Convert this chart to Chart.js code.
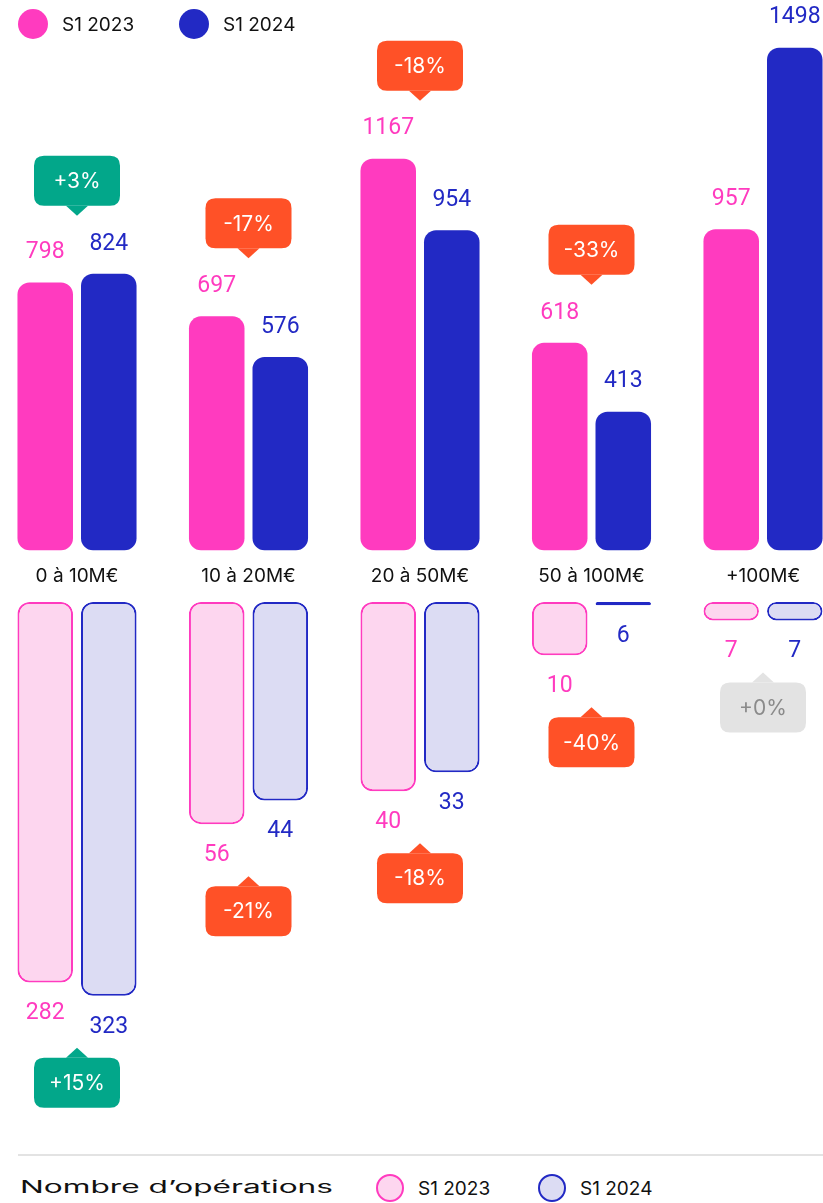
<!DOCTYPE html>
<html>
<head>
<meta charset="utf-8">
<script src="https://cdn.jsdelivr.net/npm/chart.js@4.4.1/dist/chart.umd.min.js"></script>
<style>
  body { margin: 0; background: #fff; font-family: Inter, sans-serif; width: 823px; height: 1203px; overflow: hidden; position: relative; }
  canvas { position: absolute; left: 0; }
  #montants { top: 0; }
  #operations { top: 592px; }
  .leg { position: absolute; display: flex; align-items: center; font-size: 19px; color: #111; white-space: nowrap; }
  .dot { width: 30px; height: 30px; border-radius: 50%; box-sizing: border-box; margin-right: 14px; }
  .sep { position: absolute; left: 18px; right: 0; top: 1154px; height: 2px; background: #e3e3e3; }
  .titre { position: absolute; left: 20px; top: 1175px; font-size: 17px; line-height: 24px; color: #111; transform-origin: 0 50%; white-space: nowrap; }
</style>
</head>
<body>
<canvas id="montants" width="823" height="620"></canvas>
<canvas id="operations" width="823" height="558"></canvas>

<div class="leg" style="left:18px;top:9px"><div class="dot" style="background:#ff3bbf"></div>S1 2023</div>
<div class="leg" style="left:179px;top:9px"><div class="dot" style="background:#2229c4"></div>S1 2024</div>

<div class="sep"></div>
<div class="titre" id="titre">Nombre d’opérations</div>
<div class="leg" style="left:376px;top:1174px"><div class="dot" style="width:28px;height:28px;background:#fdd6ef;border:2px solid #ff3bbf"></div>S1 2023</div>
<div class="leg" style="left:538px;top:1174px"><div class="dot" style="width:28px;height:28px;background:#dcdcf3;border:2px solid #2229c4"></div>S1 2024</div>

<script>
const categories = ['0 à 10M€', '10 à 20M€', '20 à 50M€', '50 à 100M€', '+100M€'];
const seriesLabels = ['S1 2023', 'S1 2024'];
const montant2023 = [798, 697, 1167, 618, 957];
const montant2024 = [824, 576, 954, 413, 1498];
const operations2023 = [282, 56, 40, 10, 7];
const operations2024 = [323, 44, 33, 6, 7];

const PINK = '#ff3bbf';
const BLUE = '#2229c4';
const PINK_LIGHT = '#fdd6ef';
const BLUE_LIGHT = '#dcdcf3';

// titre élargi pour rappeler la police d'origine
const titre = document.getElementById('titre');
titre.style.transform = 'scaleX(' + (313 / titre.getBoundingClientRect().width) + ')';

function variation(a, b) {
  const p = (b - a) / a * 100;
  return Math.sign(p) * Math.round(Math.abs(p));
}

function roundRectPath(ctx, x, y, w, h, r) {
  ctx.moveTo(x + r, y);
  ctx.lineTo(x + w - r, y);
  ctx.quadraticCurveTo(x + w, y, x + w, y + r);
  ctx.lineTo(x + w, y + h - r);
  ctx.quadraticCurveTo(x + w, y + h, x + w - r, y + h);
  ctx.lineTo(x + r, y + h);
  ctx.quadraticCurveTo(x, y + h, x, y + h - r);
  ctx.lineTo(x, y + r);
  ctx.quadraticCurveTo(x, y, x + r, y);
}

// dir 1 : pointe vers le bas (bulle au-dessus), dir -1 : pointe vers le haut
function drawBadge(ctx, cx, tipY, dir, pct) {
  const w = 86, h = 50, r = 10, th = 10, tw = 11;
  const boxY = dir === 1 ? tipY - th - h : tipY + th;
  const edge = dir === 1 ? boxY + h : boxY;
  let fill = '#e3e3e3', color = '#8a8a8a';
  if (pct > 0) { fill = '#02a78a'; color = '#fff'; }
  if (pct < 0) { fill = '#ff5127'; color = '#fff'; }
  ctx.save();
  ctx.fillStyle = fill;
  ctx.beginPath();
  roundRectPath(ctx, cx - w / 2, boxY, w, h, r);
  ctx.fill();
  ctx.beginPath();
  ctx.moveTo(cx - tw, edge);
  ctx.lineTo(cx, tipY);
  ctx.lineTo(cx + tw, edge);
  ctx.closePath();
  ctx.fill();
  ctx.fillStyle = color;
  ctx.font = '21px Inter';
  ctx.textAlign = 'center';
  ctx.textBaseline = 'middle';
  ctx.fillText((pct >= 0 ? '+' : '') + pct + '%', cx, boxY + h / 2 + 1);
  ctx.restore();
}

// étiquettes de valeurs + bulles de variation
const annotations = {
  id: 'annotations',
  afterDatasetsDraw(chart, args, opts) {
    const ctx = chart.ctx;
    const dir = opts.below ? -1 : 1;
    const colors = [PINK, BLUE];
    ctx.save();
    ctx.font = '23px Roboto';
    ctx.textAlign = 'center';
    ctx.textBaseline = 'middle';
    const labelY = [];
    for (let d = 0; d < 2; d++) {
      const meta = chart.getDatasetMeta(d);
      const values = chart.data.datasets[d].data;
      ctx.fillStyle = colors[d];
      meta.data.forEach((bar, i) => {
        const y = opts.below ? bar.y + 31 : bar.y - 30;
        labelY[i] = labelY[i] === undefined ? y : (opts.below ? Math.max(labelY[i], y) : Math.min(labelY[i], y));
        ctx.fillText(values[i], bar.x, y);
      });
    }
    ctx.restore();
    const a = chart.data.datasets[0].data, b = chart.data.datasets[1].data;
    categories.forEach((c, i) => {
      const cx = chart.scales.x.getPixelForValue(i);
      const tip = opts.below ? labelY[i] + 21 : labelY[i] - 28;
      drawBadge(ctx, cx, tip, dir, variation(a[i], b[i]));
    });
  }
};

const barOpts = { categoryPercentage: 0.741, barPercentage: 0.874 };

new Chart(document.getElementById('montants'), {
  type: 'bar',
  data: {
    labels: categories,
    datasets: [
      { label: seriesLabels[0], data: montant2023, backgroundColor: PINK, borderRadius: 12, borderSkipped: false, clip: false },
      { label: seriesLabels[1], data: montant2024, backgroundColor: BLUE, borderRadius: 12, borderSkipped: false, clip: false }
    ]
  },
  options: {
    responsive: false,
    animation: false,
    layout: { padding: { left: 77, right: 60, top: 0, bottom: 17 } },
    datasets: { bar: barOpts },
    plugins: { legend: { display: false }, tooltip: { enabled: false }, annotations: { below: false } },
    scales: {
      x: {
        offset: false,
        grid: { display: false, drawTicks: false },
        border: { display: false },
        ticks: { color: '#111', font: { family: 'Inter', size: 19 }, padding: 15, autoSkip: false, maxRotation: 0 }
      },
      y: { display: false, min: 0, max: 1640 }
    }
  },
  plugins: [annotations]
});

new Chart(document.getElementById('operations'), {
  type: 'bar',
  data: {
    labels: categories,
    datasets: [
      { label: seriesLabels[0], data: operations2023, backgroundColor: PINK_LIGHT, borderColor: PINK, borderWidth: 2, borderRadius: 12, borderSkipped: false, clip: false },
      { label: seriesLabels[1], data: operations2024, backgroundColor: BLUE_LIGHT, borderColor: BLUE, borderWidth: 2, borderRadius: 12, borderSkipped: false, clip: false }
    ]
  },
  options: {
    responsive: false,
    animation: false,
    layout: { padding: { left: 77, right: 60, top: 10, bottom: 135 } },
    datasets: { bar: barOpts },
    plugins: { legend: { display: false }, tooltip: { enabled: false }, annotations: { below: true } },
    scales: {
      x: { display: false, offset: false },
      y: { type: 'logarithmic', display: false, reverse: true, min: 5.8, max: 393 }
    }
  },
  plugins: [annotations]
});
</script>
</body>
</html>
